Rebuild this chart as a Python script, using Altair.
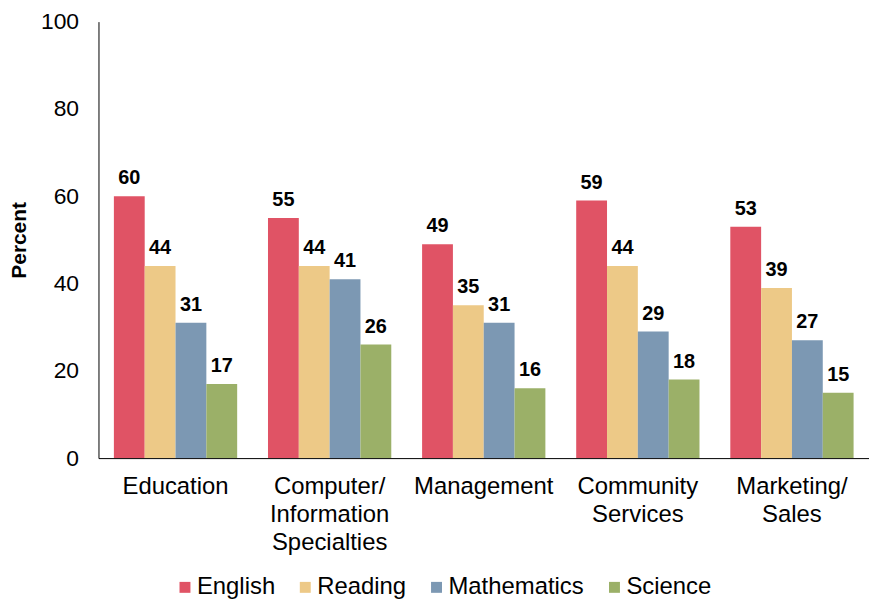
import altair as alt
import pandas as pd

categories = ["Education", "Computer/|Information|Specialties", "Management", "Community|Services", "Marketing/|Sales"]
subjects = ["English", "Reading", "Mathematics", "Science"]
english = [60, 55, 49, 59, 53]
reading = [44, 44, 35, 44, 39]
mathematics = [31, 41, 31, 29, 27]
science = [17, 26, 16, 18, 15]
colors = ["#E05365", "#EDC987", "#7C98B3", "#9BB068"]

rows = []
for i, c in enumerate(categories):
    for s, vals in zip(subjects, [english, reading, mathematics, science]):
        rows.append({"field": c, "subject": s, "value": vals[i]})
df = pd.DataFrame(rows)

FONT = "Liberation Sans"

base = alt.Chart(df).encode(
    x=alt.X("field:N", sort=categories,
            scale=alt.Scale(paddingInner=0.2, paddingOuter=0.1),
            axis=alt.Axis(title=None, labelAngle=0, ticks=False, labelFontSize=24,
                          labelFont=FONT, labelColor="black", domainColor="black",
                          labelPadding=17, labelLineHeight=28,
                          labelExpr="split(datum.label, '|')")),
    xOffset=alt.XOffset("subject:N", sort=subjects, scale=alt.Scale(paddingInner=0)),
)

bars = base.mark_bar().encode(
    y=alt.Y("value:Q", scale=alt.Scale(domain=[0, 100]),
            axis=alt.Axis(title="Percent", values=[0, 20, 40, 60, 80, 100], grid=False,
                          ticks=False, labelFontSize=23, labelFont=FONT, labelColor="black",
                          labelPadding=20, domainColor="black",
                          titleFont=FONT, titleFontSize=21, titleFontWeight="bold",
                          titlePadding=11, titleColor="black")),
    color=alt.Color("subject:N", sort=subjects,
                    scale=alt.Scale(domain=subjects, range=colors),
                    legend=alt.Legend(title=None, orient="none", direction="horizontal",
                                      legendX=75, legendY=557, symbolType="square",
                                      symbolSize=121, symbolStrokeWidth=0, labelFontSize=24,
                                      labelFont=FONT, labelColor="black", columnPadding=18,
                                      symbolOffset=0, labelOffset=0, padding=0)),
)

labels = base.mark_text(baseline="bottom", dy=-8, fontSize=20, fontWeight="bold",
                        font=FONT, color="black").encode(
    y=alt.Y("value:Q"),
    text=alt.Text("value:Q"),
)

chart = alt.layer(bars, labels).properties(
    width=775, height=439,
    autosize=alt.AutoSizeParams(type="none"),
    padding={"left": 91, "top": 12, "right": 0, "bottom": 140},
).configure_view(stroke=None)

chart.save("out.html", embed_options={"renderer": "svg", "actions": False})
